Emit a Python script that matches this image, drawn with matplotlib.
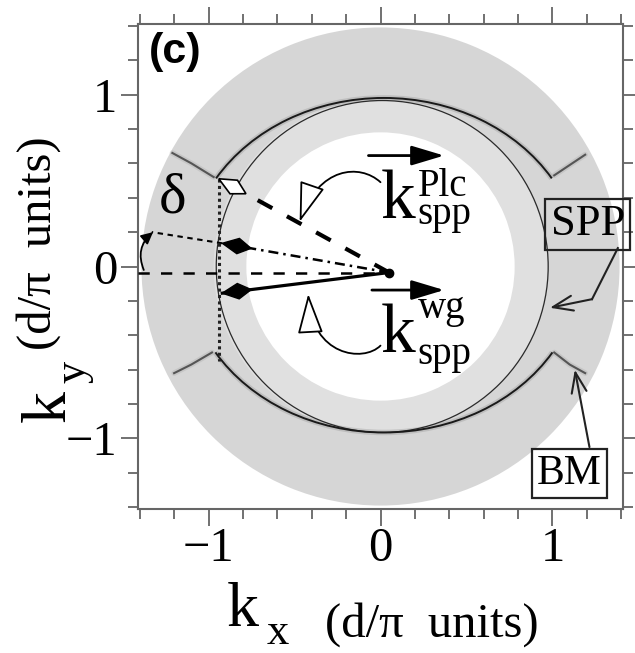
import matplotlib.pyplot as plt
import numpy as np
from matplotlib.patches import Annulus, Circle, Arc, Polygon, FancyArrowPatch
from matplotlib.path import Path

plt.rcParams['font.family'] = ['Liberation Serif', 'DejaVu Serif']

# k-space geometry, units of pi/d
ring_outer = 1.39
ring_inner = 0.78
spp_center = (0.01, 0.0)
spp_radius = 0.965

# Bloch-mode bands: elliptical arcs between the kinks, plus outer wings
band_center = (0.02, 0.0)
band_top_size = (2.29, 1.96)
band_bot_size = (2.29, 1.93)
band_top_theta = (27.7, 152.3)
band_bot_theta = (207.0, 333.0)
wing_tl_x, wing_tl_y = [-0.97, -1.10, -1.21], [0.52, 0.60, 0.66]
wing_tr_x, wing_tr_y = [1.01, 1.10, 1.19], [0.53, 0.59, 0.65]
wing_bl_x, wing_bl_y = [-0.98, -1.10, -1.20], [-0.50, -0.57, -0.62]
wing_br_x, wing_br_y = [1.01, 1.10, 1.19], [-0.50, -0.57, -0.62]

# wave vectors
origin = (0.05, -0.035)
k_wg_tip = (-0.92, -0.155)
k_plc_tip = (-0.92, 0.135)
k_plc_ext = (-1.33, 0.20)
k_bm_tip = (-0.94, 0.51)
fold_x = -0.94
fold_y = (0.51, -0.55)

xticks = [-1, 0, 1]
yticks = [-1, 0, 1]
lim = (-1.41, 1.41)


def diamond(tip, toward, length, half_width, **kw):
    tip = np.asarray(tip, float)
    d = np.asarray(toward, float) - tip
    u = d / np.hypot(*d)
    n = np.array([-u[1], u[0]])
    pts = [tip, tip + u * length * 0.55 + n * half_width,
           tip + u * length, tip + u * length * 0.55 - n * half_width]
    return Polygon(pts, closed=True, **kw)


fig = plt.figure(figsize=(6.35, 6.53), dpi=100)
ax = fig.add_axes([138 / 635, 144 / 653, 485 / 635, 485 / 653])
ax.set_xlim(*lim)
ax.set_ylim(*lim)
ax.set_aspect('equal')

# gray ring with lighter zone inside the SPP circle
ax.add_patch(Annulus((0, 0), ring_outer, ring_outer - spp_radius, color='#d6d6d6', lw=0, zorder=1))
ax.add_patch(Annulus((0, 0), spp_radius + 0.005, spp_radius + 0.005 - ring_inner, color='#e0e0e0', lw=0, zorder=1))

# SPP circle
ax.add_patch(Circle(spp_center, spp_radius, fill=False, ec='#2a2a2a', lw=0.9, zorder=3))

# bands with a soft halo
for size, th in [(band_top_size, band_top_theta), (band_bot_size, band_bot_theta)]:
    ax.add_patch(Arc(band_center, *size, theta1=th[0], theta2=th[1], color='#888888', lw=4, alpha=0.3, zorder=2))
    ax.add_patch(Arc(band_center, *size, theta1=th[0], theta2=th[1], color='#1a1a1a', lw=1.4, zorder=3))
for wx, wy in [(wing_tl_x, wing_tl_y), (wing_tr_x, wing_tr_y), (wing_bl_x, wing_bl_y), (wing_br_x, wing_br_y)]:
    ax.plot(wx, wy, color='#999999', lw=4, alpha=0.25, solid_capstyle='round', zorder=2)
    ax.plot(wx, wy, color='#555555', lw=1.5, zorder=3)

# reference lines
ax.plot([lim[0], origin[0]], [origin[1], origin[1]], color='k', lw=1.8, ls=(0, (4.5, 4.5)), zorder=4)
ax.plot([k_plc_tip[0], k_plc_ext[0]], [k_plc_tip[1], k_plc_ext[1]], color='k', lw=1.5, ls=(0, (2.6, 2.2)), zorder=4)
ax.plot([fold_x, fold_x], fold_y, color='#222222', lw=2.2, ls=(0, (1, 1.1)), zorder=4)

# wave vectors
ax.plot([origin[0], k_wg_tip[0]], [origin[1], k_wg_tip[1]], color='k', lw=2.3, zorder=5)
ax.plot([origin[0], k_plc_tip[0]], [origin[1], k_plc_tip[1]], color='k', lw=1.8, ls=(0, (4, 2, 1, 2)), zorder=5)
ax.plot([origin[0], k_bm_tip[0]], [origin[1], k_bm_tip[1]], color='k', lw=3, ls=(0, (4, 4)), zorder=5)
ax.add_patch(diamond(k_wg_tip, origin, 0.17, 0.045, fc='k', ec='k', lw=1, zorder=6))
ax.add_patch(diamond(k_plc_tip, origin, 0.17, 0.045, fc='k', ec='k', lw=1, zorder=6))
ax.add_patch(diamond(k_bm_tip, origin, 0.18, 0.045, fc='white', ec='k', lw=1.2, zorder=6))
ax.plot(*origin, 'o', color='k', ms=6, zorder=6)

# delta angle
ax.add_patch(FancyArrowPatch((-1.37, origin[1]), (-1.31, 0.21), connectionstyle='arc3,rad=-0.4',
                             arrowstyle='-|>,head_length=0.5,head_width=0.25', mutation_scale=14,
                             color='k', lw=1.3, zorder=6))
ax.text(-1.21, 0.316, 'δ', fontsize=42, ha='center', va='baseline', zorder=7)

# k_spp^Plc and k_spp^wg labels
arrow_kw = dict(arrowstyle='-|>,head_length=1.0,head_width=0.3', mutation_scale=20, color='k', lw=2,
                shrinkA=0, shrinkB=0)
ax.annotate('', xy=(0.37, 0.645), xytext=(-0.07, 0.645), arrowprops=arrow_kw, zorder=7)
ax.text(0.0, 0.28, 'k', fontsize=50, ha='left', va='baseline', zorder=7)
ax.text(0.215, 0.41, 'Plc', fontsize=28, ha='left', va='baseline', zorder=7)
ax.text(0.215, 0.25, 'spp', fontsize=28, ha='left', va='baseline', zorder=7)

ax.annotate('', xy=(0.37, -0.137), xytext=(-0.05, -0.137), arrowprops=arrow_kw, zorder=7)
ax.text(0.0, -0.50, 'k', fontsize=50, ha='left', va='baseline', zorder=7)
ax.text(0.215, -0.30, 'wg', fontsize=28, ha='left', va='baseline', zorder=7)
ax.text(0.215, -0.565, 'spp', fontsize=28, ha='left', va='baseline', zorder=7)

# curved pointers with hollow heads
hollow = dict(arrowstyle='-|>,head_length=1.4,head_width=0.45', mutation_scale=18, fc='white', ec='k',
              lw=1.3, zorder=7)
p_up = Path([(0.0, 0.49), (-0.12, 0.60), (-0.36, 0.58), (-0.47, 0.26)],
            [Path.MOVETO, Path.CURVE4, Path.CURVE4, Path.CURVE4])
ax.add_patch(FancyArrowPatch(path=p_up, **hollow))
p_dn = Path([(0.0, -0.46), (-0.10, -0.56), (-0.40, -0.52), (-0.42, -0.16)],
            [Path.MOVETO, Path.CURVE4, Path.CURVE4, Path.CURVE4])
ax.add_patch(FancyArrowPatch(path=p_dn, **hollow))

# SPP and BM callouts
box = dict(boxstyle='square,pad=0.12', fc='none', ec='#222222', lw=1.6)
ax.text(1.205, 0.245, 'SPP', fontsize=32, ha='center', va='center', bbox=box, clip_on=False, zorder=8)
ax.plot([1.38, 1.23], [0.107, -0.19], color='#222222', lw=1.5, zorder=7, clip_on=False)
ax.annotate('', xy=(0.985, -0.24), xytext=(1.23, -0.19),
            arrowprops=dict(arrowstyle='->,head_length=0.8,head_width=0.3', mutation_scale=18,
                            color='#222222', lw=1.5, shrinkA=0, shrinkB=0), zorder=7)
ax.text(1.10, -1.205, 'BM', fontsize=30, ha='center', va='center', bbox=box, zorder=8)
ax.annotate('', xy=(1.13, -0.60), xytext=(1.215, -1.05),
            arrowprops=dict(arrowstyle='->,head_length=0.8,head_width=0.3', mutation_scale=18,
                            color='#222222', lw=1.5, shrinkA=0, shrinkB=0), zorder=7)

ax.text(-1.345, 1.365, '(c)', fontsize=31, fontweight='bold', family='Liberation Sans',
        ha='left', va='top', zorder=8)

# axes styling
ax.set_xticks(xticks)
ax.set_yticks(yticks)
ax.set_xticks(np.arange(-1.4, 1.41, 0.2), minor=True)
ax.set_yticks(np.arange(-1.4, 1.41, 0.2), minor=True)
ax.tick_params(which='both', direction='out', top=True, right=True, color='#666666', width=1.3,
               labelsize=35)
ax.tick_params(which='major', length=12)
ax.tick_params(which='minor', length=7)
ax.tick_params(axis='y', pad=3)
ax.tick_params(axis='x', pad=1)
for s in ax.spines.values():
    s.set_color('#666666')
    s.set_linewidth(1.5)

# axis labels
ax.text(-0.893, -2.09, 'k', fontsize=46, ha='left', va='baseline', clip_on=False)
ax.text(-0.661, -2.195, 'x', fontsize=32, ha='left', va='baseline', clip_on=False)
ax.text(-0.323, -2.154, '(d/π  units)', fontsize=35, ha='left', va='baseline', clip_on=False)
rot = dict(rotation=90, rotation_mode='anchor', ha='left', va='baseline', clip_on=False)
ax.text(-1.838, -0.904, 'k', fontsize=46, **rot)
ax.text(-1.72, -0.68, 'y', fontsize=32, **rot)
ax.text(-1.92, -0.485, '(d/π  units)', fontsize=35, **rot)

fig.savefig('out.png', dpi=100)
